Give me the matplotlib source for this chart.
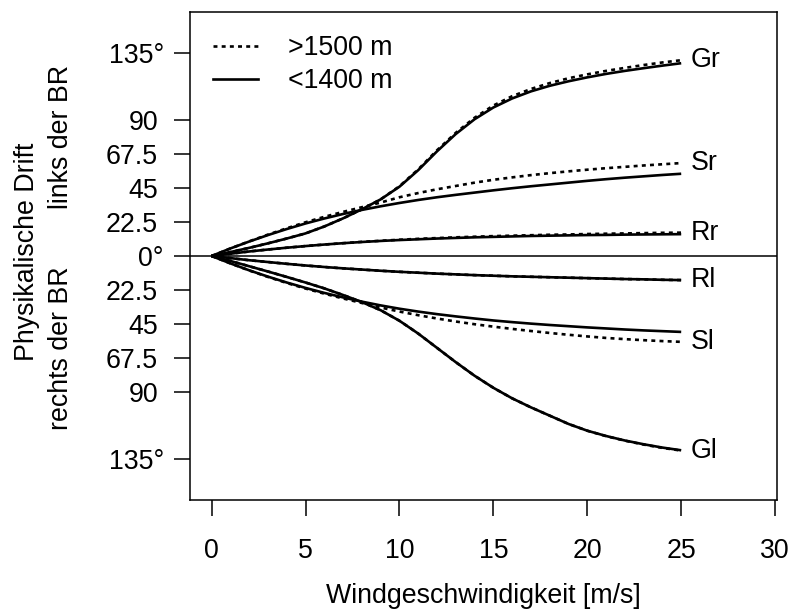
import matplotlib
matplotlib.use("Agg")
import matplotlib.pyplot as plt
from matplotlib.transforms import ScaledTranslation

plt.rcParams["font.family"] = ["Liberation Sans", "DejaVu Sans"]

# wind speed [m/s]
wind = list(range(0, 26))

# drift to the left of the flight direction (positive), two altitude classes
gr_low = [0, 2.6, 5.4, 8.4, 11.6, 15.0, 19.6, 25.0, 31.0, 37.6, 46.0, 57.0, 69.5, 81.0, 90.8,
          98.6, 104.6, 109.3, 113.0, 116.0, 118.6, 120.9, 122.9, 124.7, 126.4, 128.0]
gr_high = [0, 2.6, 5.4, 8.4, 11.6, 15.0, 19.6, 25.0, 31.0, 37.6, 46.3, 57.5, 70.2, 81.8, 91.8,
           99.9, 106.1, 110.9, 114.8, 118.0, 120.6, 122.9, 124.9, 126.8, 128.5, 130.0]
sr_low = [0, 5.0, 9.6, 13.9, 17.9, 21.6, 24.9, 27.9, 30.6, 33.0, 35.2, 37.2, 39.0, 40.6, 42.1,
          43.6, 45.0, 46.3, 47.5, 48.7, 49.9, 51.0, 52.0, 52.9, 53.8, 54.6]
sr_high = [0, 5.0, 9.7, 14.2, 18.4, 22.4, 26.0, 29.3, 32.4, 35.5, 39.0, 41.8, 44.3, 46.5, 48.7,
           50.6, 52.2, 53.7, 55.0, 56.2, 57.3, 58.3, 59.2, 60.1, 60.9, 61.7]
rr_low = [0, 1.5, 3.0, 4.3, 5.5, 6.6, 7.6, 8.5, 9.3, 10.0, 10.6, 11.1, 11.6, 12.0, 12.4,
          12.7, 13.0, 13.3, 13.5, 13.7, 13.9, 14.0, 14.2, 14.3, 14.4, 14.5]
rr_high = [0, 1.5, 3.0, 4.3, 5.5, 6.6, 7.6, 8.5, 9.4, 10.1, 10.8, 11.4, 11.9, 12.4, 12.8,
           13.2, 13.5, 13.8, 14.1, 14.3, 14.6, 14.8, 15.0, 15.2, 15.4, 15.5]

# drift to the right of the flight direction (negative)
rl_low = [0, -1.4, -2.8, -4.0, -5.2, -6.3, -7.3, -8.2, -9.0, -9.8, -10.5, -11.1, -11.7, -12.2, -12.7,
          -13.1, -13.5, -13.8, -14.1, -14.4, -14.7, -15.0, -15.3, -15.5, -15.8, -16.0]
rl_high = [0, -1.4, -2.8, -4.0, -5.2, -6.3, -7.3, -8.2, -9.0, -9.8, -10.5, -11.1, -11.7, -12.2, -12.7,
           -13.1, -13.5, -13.8, -14.1, -14.4, -14.7, -15.0, -15.3, -15.5, -15.8, -16.0]
sl_low = [0, -4.9, -9.5, -13.7, -17.6, -21.2, -24.5, -27.5, -30.3, -32.8, -35.0, -36.9, -38.6, -40.1, -41.5,
          -42.8, -43.9, -44.9, -45.8, -46.6, -47.4, -48.1, -48.8, -49.4, -49.9, -50.4]
sl_high = [0, -4.9, -9.6, -13.9, -17.9, -21.6, -25.0, -28.2, -31.2, -34.2, -36.9, -39.3, -41.5, -43.5, -45.3,
           -46.9, -48.4, -49.8, -51.1, -52.3, -53.4, -54.4, -55.2, -55.9, -56.5, -57.0]
gl_low = [0, -3.3, -6.8, -10.3, -13.9, -17.6, -21.5, -25.9, -30.6, -36.0, -43.0, -51.5, -61.0, -70.5, -79.5,
          -87.5, -94.5, -100.5, -106.0, -111.5, -116.0, -119.5, -122.5, -125.0, -127.2, -129.0]
gl_high = [0, -3.3, -6.8, -10.3, -13.9, -17.6, -21.5, -25.9, -30.6, -36.0, -43.0, -51.5, -61.0, -70.5, -79.5,
           -87.5, -94.5, -100.5, -106.0, -111.5, -116.0, -119.6, -122.6, -125.2, -127.4, -129.2]

curve_names = ["Gr", "Sr", "Rr", "Rl", "Sl", "Gl"]
low_series = [gr_low, sr_low, rr_low, rl_low, sl_low, gl_low]
high_series = [gr_high, sr_high, rr_high, rl_high, sl_high, gl_high]

ytick_values = [135, 90, 67.5, 45, 22.5, 0, -22.5, -45, -67.5, -90, -135]
ytick_labels = ["135°", "90", "67.5", "45", "22.5", "0°", "22.5", "45", "67.5", "90", "135°"]
xtick_values = [0, 5, 10, 15, 20, 25, 30]

FS = 19.3
W, H = 791, 609
fig = plt.figure(figsize=(W / 100, H / 100), dpi=100)
ax = fig.add_axes([190 / W, 1 - 500 / H, 587 / W, 488 / H])

dotted = (0, (1.5, 1.6))
for lo, hi in zip(low_series, high_series):
    ax.plot(wind, lo, color="black", lw=1.9, solid_capstyle="butt")
    ax.plot(wind, hi, color="black", lw=1.9, linestyle=dotted)

ax.axhline(0, color="black", lw=1.1)

for name, hi in zip(curve_names, high_series):
    ax.text(wind[-1] + 0.5, hi[-1], name, fontsize=FS, va="center", ha="left")

ax.set_xlim(-1.15, 30.1)
ax.set_ylim(-162, 162)
ax.set_xticks(xtick_values)
ax.set_xticklabels([str(v) for v in xtick_values])
ax.set_yticks(ytick_values)
ax.set_yticklabels(ytick_labels)

for s in ax.spines.values():
    s.set_linewidth(1.1)
ax.tick_params(axis="both", direction="out", length=11.2, width=1.1, labelsize=FS)
ax.tick_params(axis="y", pad=11.9)
ax.tick_params(axis="x", pad=16.0)

# degree signs hang to the right of the digit column
shift = ScaledTranslation(6 / 100, 0, fig.dpi_scale_trans)
for tick, txt in zip(ax.yaxis.get_major_ticks(), ytick_labels):
    if "°" in txt:
        tick.label1.set_transform(tick.label1.get_transform() + shift)

ax.set_xlabel("Windgeschwindigkeit [m/s]", fontsize=FS, va="baseline")
ax.xaxis.set_label_coords(0.5, -(603 - 500) / 488)

fig.text(27 / W, 1 - 252 / H, "Physikalische Drift", rotation=90, fontsize=FS,
         ha="center", va="center")
fig.text(61 / W, 1 - 136.5 / H, "links der BR", rotation=90, fontsize=FS,
         ha="center", va="center")
fig.text(61 / W, 1 - 348.5 / H, "rechts der BR", rotation=90, fontsize=FS,
         ha="center", va="center")

ax.plot([], [], color="black", lw=1.9, linestyle=dotted, label=">1500 m")
ax.plot([], [], color="black", lw=1.9, label="<1400 m")
handles, labels = ax.get_legend_handles_labels()
ax.legend(handles[-2:], labels[-2:], loc="upper left", frameon=False, fontsize=FS,
          handlelength=1.68, handletextpad=1.12, labelspacing=0.27,
          borderpad=0, borderaxespad=0, bbox_to_anchor=(23 / 587, 1 - 23 / 488))

fig.savefig("out.png", dpi=100)
